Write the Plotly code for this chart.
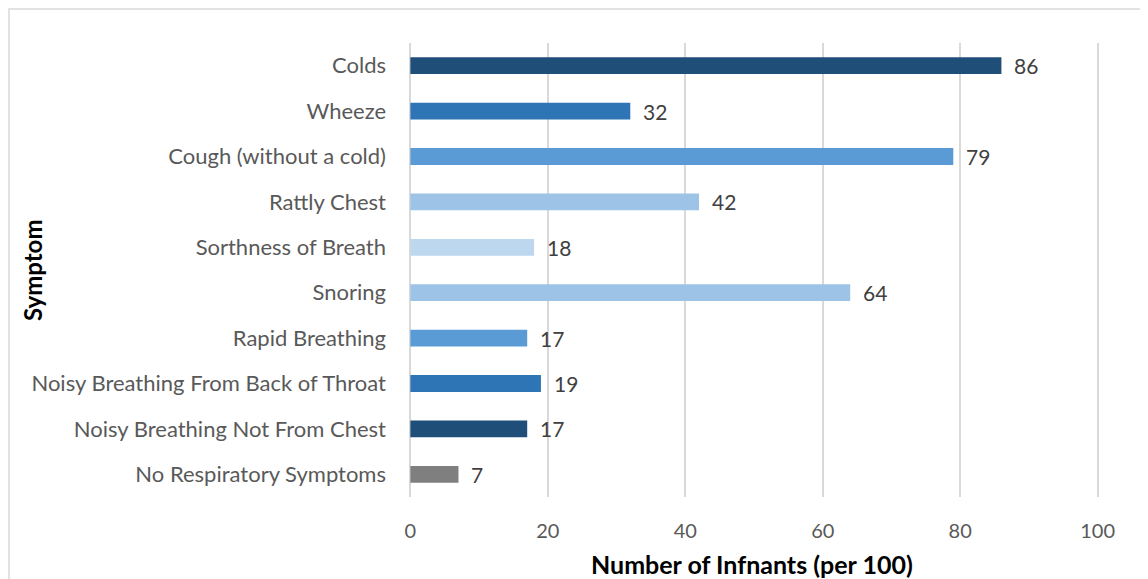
import plotly.graph_objects as go

symptoms = ["Colds", "Wheeze", "Cough (without a cold)", "Rattly Chest",
            "Sorthness of Breath", "Snoring", "Rapid Breathing",
            "Noisy Breathing From Back of Throat", "Noisy Breathing Not From Chest",
            "No Respiratory Symptoms"]
values = [86, 32, 79, 42, 18, 64, 17, 19, 17, 7]
colors = ["#1F4E79", "#2E75B6", "#5B9BD5", "#9DC3E6", "#BDD7EE",
          "#9DC3E6", "#5B9BD5", "#2E75B6", "#1F4E79", "#7F7F7F"]
x_ticks = [0, 20, 40, 60, 80, 100]

FONT = "Lato, 'Open Sans', sans-serif"

fig = go.Figure()
fig.add_trace(go.Bar(
    x=values, y=symptoms, orientation="h",
    marker=dict(color=colors, line=dict(width=0)),
    width=0.37, hoverinfo="x+y",
))

annotations = []
for s, v in zip(symptoms, values):
    annotations.append(dict(x=v, y=s, xref="x", yref="y", text=str(v),
                            showarrow=False, xanchor="left", xshift=11,
                            font=dict(family=FONT, size=21, color="#404040")))
annotations.append(dict(x=0.497, y=-0.147, xref="paper", yref="paper",
                        text="<b>Number of Infnants (per 100)</b>", showarrow=False,
                        xanchor="center", yanchor="middle",
                        font=dict(family=FONT, size=25, color="#000000")))
annotations.append(dict(x=-0.5464, y=0.5, xref="paper", yref="paper",
                        text="<b>Symptom</b>", showarrow=False, textangle=-90,
                        xanchor="center", yanchor="middle",
                        font=dict(family=FONT, size=24, color="#000000")))

fig.update_layout(
    width=1148, height=579,
    margin=dict(l=401, r=57, t=35, b=90, autoexpand=False),
    paper_bgcolor="white", plot_bgcolor="white",
    showlegend=False,
    annotations=annotations,
    shapes=[dict(type="rect", xref="paper", yref="paper",
                 x0=-0.5797, x1=1.0696, y0=-0.3, y1=1.0749,
                 line=dict(color="#D9D9D9", width=1.5), layer="below")],
    xaxis=dict(range=[-0.2, 100.2], tickvals=x_ticks, ticktext=[str(t) for t in x_ticks],
               showgrid=True, gridcolor="#D9D9D9", gridwidth=2,
               zeroline=False, showline=False, ticks="",
               ticklabelstandoff=20,
               tickfont=dict(family=FONT, size=20, color="#595959"),
               automargin=False),
    yaxis=dict(categoryorder="array", categoryarray=symptoms, autorange="reversed",
               showgrid=False, zeroline=False, showline=False, ticks="",
               ticklabelstandoff=22,
               tickfont=dict(family=FONT, size=22, color="#595959"),
               automargin=False),
)

fig.write_html("out.html")
